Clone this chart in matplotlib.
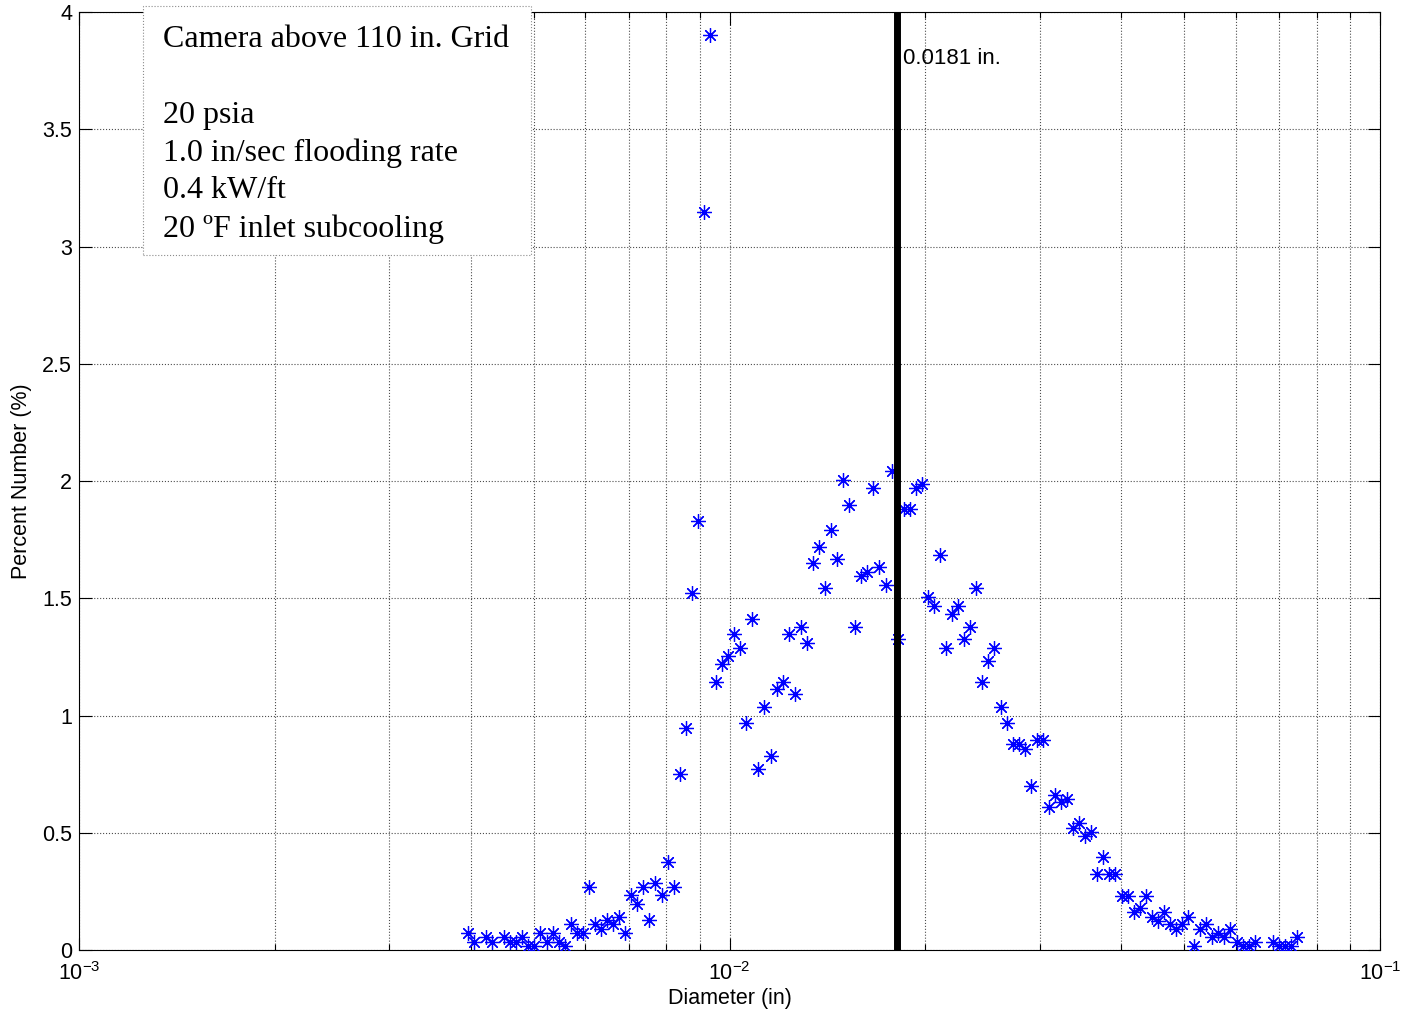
import matplotlib
matplotlib.use('Agg')
import matplotlib.pyplot as plt
from matplotlib.patches import Rectangle
from matplotlib.ticker import FixedLocator, FormatStrFormatter, LogLocator

plt.rcParams['font.family'] = ['Liberation Sans', 'DejaVu Sans']
plt.rcParams['mathtext.fontset'] = 'custom'
plt.rcParams['mathtext.rm'] = 'Liberation Sans'
plt.rcParams['mathtext.default'] = 'regular'
plt.rcParams['axes.unicode_minus'] = False

# droplet diameter bins (in) and percent number
diameter_in = [
    0.003961, 0.004047, 0.004224, 0.004315, 0.004504, 0.004601, 0.004701, 0.004803,
    0.004907, 0.005013, 0.005122, 0.005233, 0.005346, 0.005462, 0.005580, 0.005701,
    0.005824, 0.005950, 0.006079, 0.006211, 0.006346, 0.006483, 0.006623, 0.006766,
    0.006913, 0.007063, 0.007216, 0.007372, 0.007532, 0.007695, 0.007862, 0.008032,
    0.008206, 0.008384, 0.008566, 0.008751, 0.008941, 0.009135, 0.009333, 0.009535,
    0.009741, 0.009952, 0.010168, 0.010388, 0.010613, 0.010843, 0.011078, 0.011318,
    0.011563, 0.011813, 0.012069, 0.012330, 0.012597, 0.012870, 0.013149, 0.013434,
    0.013725, 0.014022, 0.014326, 0.014636, 0.014953, 0.015277, 0.015608, 0.015946,
    0.016291, 0.016644, 0.017004, 0.017372, 0.017748, 0.018132, 0.018525, 0.018926,
    0.019336, 0.019755, 0.020183, 0.020620, 0.021066, 0.021522, 0.021988, 0.022464,
    0.022950, 0.023447, 0.023955, 0.024474, 0.025004, 0.025545, 0.026098, 0.026663,
    0.027240, 0.027830, 0.028433, 0.029049, 0.029678, 0.030321, 0.030977, 0.031648,
    0.032333, 0.033033, 0.033748, 0.034479, 0.035226, 0.035989, 0.036768, 0.037564,
    0.038377, 0.039208, 0.040057, 0.040924, 0.041810, 0.042715, 0.043640, 0.044585,
    0.045550, 0.046536, 0.047544, 0.048573, 0.049625, 0.050699, 0.051797, 0.052918,
    0.054064, 0.055235, 0.056431, 0.057653, 0.058901, 0.060176, 0.061479, 0.062810,
    0.064170, 0.068428, 0.069910, 0.071424, 0.072970, 0.074550,
]
percent_number = [
    0.071, 0.033, 0.054, 0.033, 0.054, 0.033, 0.033, 0.054,
    0.017, 0.017, 0.071, 0.033, 0.071, 0.033, 0.017, 0.110,
    0.071, 0.071, 0.270, 0.110, 0.088, 0.128, 0.110, 0.142,
    0.071, 0.233, 0.197, 0.270, 0.128, 0.287, 0.233, 0.375,
    0.270, 0.750, 0.948, 1.521, 1.829, 3.148, 3.903, 1.144,
    1.220, 1.255, 1.348, 1.287, 0.967, 1.413, 0.772, 1.038,
    0.827, 1.112, 1.144, 1.348, 1.090, 1.379, 1.309, 1.649,
    1.717, 1.544, 1.791, 1.666, 2.004, 1.898, 1.379, 1.595,
    1.611, 1.971, 1.632, 1.557, 2.043, 1.325, 1.881, 1.881,
    1.971, 1.987, 1.507, 1.468, 1.684, 1.287, 1.432, 1.468,
    1.325, 1.379, 1.542, 1.144, 1.234, 1.287, 1.038, 0.969,
    0.878, 0.878, 0.856, 0.699, 0.896, 0.896, 0.611, 0.661,
    0.630, 0.644, 0.519, 0.540, 0.488, 0.502, 0.323, 0.398,
    0.323, 0.323, 0.232, 0.232, 0.163, 0.180, 0.232, 0.142,
    0.124, 0.161, 0.111, 0.090, 0.111, 0.142, 0.018, 0.090,
    0.110, 0.054, 0.071, 0.054, 0.088, 0.033, 0.017, 0.017,
    0.033, 0.033, 0.017, 0.017, 0.017, 0.054,
]
mean_diameter = 0.0181
y_ticks = [0, 0.5, 1, 1.5, 2, 2.5, 3, 3.5, 4]
info_lines = ['Camera above 110 in. Grid', '20 psia', '1.0 in/sec flooding rate',
              '0.4 kW/ft', '20 \u00baF inlet subcooling']
info_baselines = [47, 123, 161, 198, 237]  # pixels from top

W, H = 1402, 1018
fig = plt.figure(figsize=(W / 100, H / 100), dpi=100)
ax = fig.add_axes([79 / W, 68 / H, (1380 - 79) / W, (950 - 12) / H])

ax.plot(diameter_in, percent_number, linestyle='none', marker=(8, 2, 0),
        markersize=10.5, markeredgewidth=0.9, color='b', zorder=3)
ax.axvline(mean_diameter, color='k', linewidth=5, zorder=4)
ax.annotate('%.4f in.' % mean_diameter, xy=(mean_diameter, 3.80),
            xytext=(4, 0), textcoords='offset points', ha='left', va='center',
            fontsize=16)

ax.set_xscale('log')
ax.set_xlim(1e-3, 1e-1)
ax.set_ylim(0, 4)
ax.xaxis.set_major_locator(LogLocator(base=10))
ax.xaxis.set_minor_locator(LogLocator(base=10, subs=range(2, 10)))
ax.xaxis.set_minor_formatter(plt.NullFormatter())
ax.yaxis.set_major_locator(FixedLocator(y_ticks))
ax.yaxis.set_major_formatter(FormatStrFormatter('%g'))

ax.tick_params(which='both', direction='in', top=True, right=True,
               labelsize=15.5, width=0.8)
ax.tick_params(which='major', length=9)
ax.tick_params(which='minor', length=4.5)
ax.tick_params(axis='x', pad=9)
ax.tick_params(axis='y', pad=5)
for s in ax.spines.values():
    s.set_linewidth(0.8)

ax.grid(True, which='major', linestyle=':', color='0.3', linewidth=0.8)
ax.grid(True, which='minor', axis='x', linestyle=':', color='0.3', linewidth=0.8)
ax.set_axisbelow(True)

ax.set_xlabel('Diameter (in)', fontsize=15.5, labelpad=2)
ax.set_ylabel('Percent Number (%)', fontsize=15.5, labelpad=7)

# annotation box
box = Rectangle((143 / W, 1 - 255 / H), (531 - 143) / W, (255 - 6) / H,
                transform=fig.transFigure, facecolor='white', edgecolor='0.55',
                linestyle=':', linewidth=0.8, zorder=5)
fig.patches.append(box)
for line, yb in zip(info_lines, info_baselines):
    fig.text(163 / W, 1 - yb / H, line, family='Liberation Serif', fontsize=23,
             va='baseline', ha='left', zorder=6)

fig.savefig('out.png', dpi=100)
